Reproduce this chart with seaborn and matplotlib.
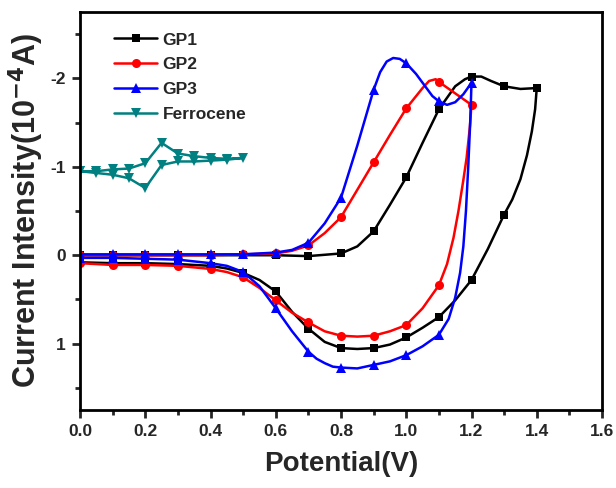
import numpy as np
import pandas as pd
import matplotlib
matplotlib.use("Agg")
import matplotlib.pyplot as plt
import seaborn as sns

# ---- data (potential in V, current in 1e-4 A) ----
gp1_v = [0.0, 0.1, 0.2, 0.3, 0.4, 0.5, 0.6, 0.7, 0.8, 0.85, 0.9, 0.95, 1.0, 1.05, 1.1, 1.15, 1.18, 1.2, 1.23, 1.26, 1.3, 1.35, 1.4,
         1.395, 1.385, 1.37, 1.35, 1.325, 1.3, 1.25, 1.2, 1.15, 1.1, 1.05, 1.0, 0.95, 0.9, 0.85, 0.8, 0.75, 0.7, 0.65, 0.6, 0.55, 0.5, 0.45, 0.4, 0.3, 0.2, 0.1, 0.0]
gp1_i = [0.0, 0.0, 0.0, 0.0, 0.0, 0.0, 0.0, 0.01, -0.02, -0.10, -0.27, -0.57, -0.88, -1.27, -1.65, -1.91, -1.99, -2.02, -2.02, -1.97, -1.91, -1.88, -1.89,
         -1.65, -1.40, -1.13, -0.86, -0.63, -0.46, -0.07, 0.28, 0.51, 0.70, 0.82, 0.93, 1.01, 1.05, 1.06, 1.05, 0.98, 0.83, 0.64, 0.41, 0.28, 0.20, 0.15, 0.12, 0.10, 0.09, 0.09, 0.08]

gp2_v = [0.0, 0.1, 0.2, 0.3, 0.4, 0.5, 0.6, 0.65, 0.7, 0.75, 0.8, 0.85, 0.9, 0.95, 1.0, 1.05, 1.07, 1.09, 1.1, 1.15, 1.2,
         1.195, 1.185, 1.175, 1.16, 1.145, 1.125, 1.1, 1.05, 1.0, 0.95, 0.9, 0.85, 0.8, 0.75, 0.7, 0.65, 0.6, 0.55, 0.5, 0.45, 0.4, 0.3, 0.2, 0.1, 0.0]
gp2_i = [0.0, 0.0, 0.0, 0.0, 0.0, -0.01, -0.02, -0.05, -0.11, -0.25, -0.43, -0.74, -1.05, -1.36, -1.66, -1.89, -1.97, -1.99, -1.96, -1.83, -1.70,
         -1.45, -1.10, -0.85, -0.50, -0.20, 0.10, 0.34, 0.60, 0.79, 0.86, 0.91, 0.92, 0.91, 0.86, 0.76, 0.65, 0.51, 0.37, 0.25, 0.19, 0.155, 0.12, 0.11, 0.11, 0.09]

gp3_v = [0.0, 0.1, 0.2, 0.3, 0.4, 0.5, 0.6, 0.65, 0.7, 0.75, 0.8, 0.85, 0.9, 0.92, 0.94, 0.96, 0.98, 1.0, 1.03, 1.05, 1.08, 1.1, 1.125, 1.15, 1.175, 1.2,
         1.196, 1.19, 1.183, 1.175, 1.165, 1.15, 1.13, 1.1, 1.05, 1.0, 0.95, 0.9, 0.85, 0.8, 0.775, 0.75, 0.725, 0.7, 0.65, 0.6, 0.55, 0.5, 0.45, 0.4, 0.3, 0.2, 0.1, 0.0]
gp3_i = [-0.01, -0.01, -0.01, -0.01, -0.01, -0.01, -0.03, -0.06, -0.14, -0.36, -0.65, -1.24, -1.87, -2.07, -2.19, -2.23, -2.22, -2.17, -2.05, -1.95, -1.80, -1.74, -1.70, -1.73, -1.82, -1.95,
         -1.50, -1.00, -0.50, -0.10, 0.20, 0.48, 0.72, 0.90, 1.03, 1.13, 1.20, 1.24, 1.28, 1.27, 1.26, 1.22, 1.17, 1.09, 0.86, 0.60, 0.35, 0.19, 0.12, 0.09, 0.05, 0.04, 0.03, 0.03]

fc_v = [0.0, 0.05, 0.1, 0.15, 0.2, 0.25, 0.3, 0.35, 0.4, 0.45, 0.5,
        0.45, 0.4, 0.35, 0.3, 0.25, 0.2, 0.15, 0.1, 0.05, 0.0]
fc_i = [-0.95, -0.95, -0.97, -0.98, -1.04, -1.27, -1.15, -1.12, -1.10, -1.09, -1.10,
        -1.08, -1.07, -1.06, -1.06, -1.02, -0.76, -0.87, -0.91, -0.93, -0.95]

x_ticks = [0.0, 0.2, 0.4, 0.6, 0.8, 1.0, 1.2, 1.4, 1.6]
y_ticks = [-2, -1, 0, 1]

sns.set_theme(style="ticks")
plt.rcParams["font.family"] = ["Liberation Sans", "DejaVu Sans"]
plt.rcParams["font.weight"] = "bold"
plt.rcParams["axes.unicode_minus"] = False

fig = plt.figure(figsize=(6.16, 4.88), dpi=100)
ax = fig.add_axes([80 / 616, 1 - 410 / 488, 522 / 616, 398 / 488])


def marker_idx(v, step):
    v = np.asarray(v)
    return [int(k) for k in np.where(np.isclose(np.round(v / step) * step, v, atol=1e-6))[0]]


series = [
    ("GP1", gp1_v, gp1_i, "black", "s", 6.0, 0.1),
    ("GP2", gp2_v, gp2_i, "#ff0000", "o", 6.5, 0.1),
    ("GP3", gp3_v, gp3_i, "#0000ff", "^", 7.0, 0.1),
    ("Ferrocene", fc_v, fc_i, "#008080", "v", 7.0, 0.05),
]
for name, v, i, col, mk, ms, step in series:
    df = pd.DataFrame({"V": v, "I": i})
    sns.lineplot(data=df, x="V", y="I", sort=False, estimator=None, ax=ax,
                 color=col, lw=1.8, marker=mk, markersize=ms, markeredgewidth=0,
                 markevery=marker_idx(v, step), label=name)

ax.set_xlim(0.0, 1.6)
ax.set_ylim(1.75, -2.75)
ax.set_xticks(x_ticks)
ax.set_xticklabels([f"{t:.1f}" for t in x_ticks])
ax.set_yticks(y_ticks)
ax.set_yticklabels([str(t) for t in y_ticks])
ax.set_xticks(np.arange(0.1, 1.6, 0.2), minor=True)
ax.set_yticks([-2.5, -1.5, -0.5, 0.5, 1.5], minor=True)
ax.tick_params(which="major", direction="out", length=6, width=2, labelsize=12.5, pad=4)
ax.tick_params(which="minor", direction="out", length=3.5, width=2)
for lbl in ax.get_xticklabels() + ax.get_yticklabels():
    lbl.set_fontweight("bold")
for sp in ax.spines.values():
    sp.set_linewidth(2)
    sp.set_color("black")

ax.set_xlabel("Potential(V)", fontsize=20, fontweight="bold", labelpad=9)
ax.set_ylabel("Current Intensity(10$^{\\mathbf{-4}}$A)", fontsize=22, fontweight="bold", labelpad=3)

leg = ax.legend(loc="upper left", bbox_to_anchor=(0.045, 0.975), frameon=False,
                prop={"weight": "bold", "size": 12.5}, handlelength=2.5,
                handletextpad=0.3, labelspacing=0.55, borderaxespad=0.2)

fig.savefig("out.png", dpi=100)
